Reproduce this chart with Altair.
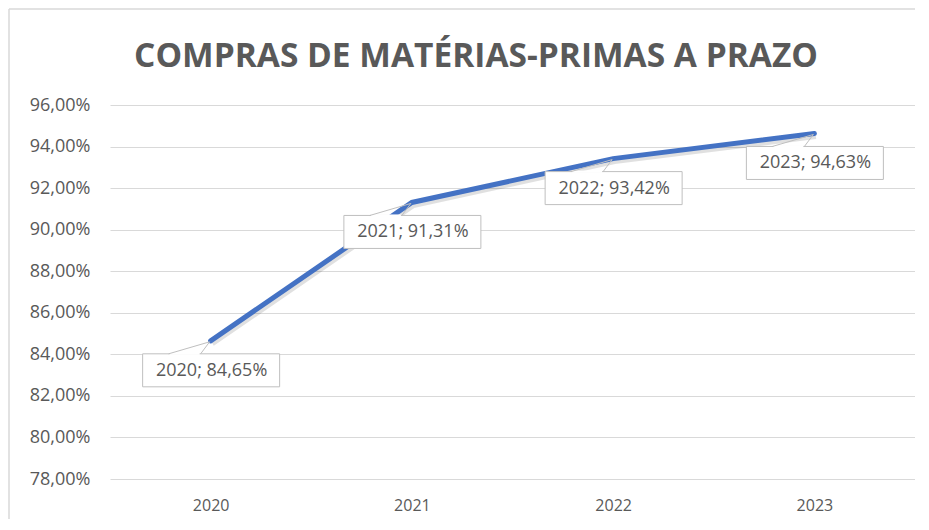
import altair as alt
import pandas as pd

years = ["2020", "2021", "2022", "2023"]
values = [0.8465, 0.9131, 0.9342, 0.9463]
labels = ["2020; 84,65%", "2021; 91,31%", "2022; 93,42%", "2023; 94,63%"]
title_text = "COMPRAS DE MATÉRIAS-PRIMAS A PRAZO"

df = pd.DataFrame({"year": years, "value": values, "label": labels})

GRAY_TXT = "#595959"
GRID = "#d9d9d9"
BLUE = "#4472C4"
FONT = "Open Sans"

x_enc = alt.X("year:O", title=None,
              scale=alt.Scale(type="point", padding=0.5),
              axis=alt.Axis(labelAngle=0, ticks=False, domain=False, grid=False,
                            labelFont=FONT, labelFontSize=16, labelColor=GRAY_TXT,
                            labelPadding=18))
y_enc = alt.Y("value:Q", title=None,
              scale=alt.Scale(domain=[0.78, 0.96], nice=False, zero=False),
              axis=alt.Axis(values=[0.78, 0.80, 0.82, 0.84, 0.86, 0.88, 0.90, 0.92, 0.94, 0.96],
                            labelExpr="replace(format(datum.value, '.2%'), '.', ',')",
                            ticks=False, domain=False, grid=True, gridColor=GRID,
                            gridWidth=1, labelFont=FONT, labelFontSize=18,
                            labelColor=GRAY_TXT, labelPadding=20))

base = alt.Chart(df)

shadow = base.mark_line(color="#000000", opacity=0.12, strokeWidth=6,
                        xOffset=1.5, yOffset=2.5).encode(x=x_enc, y=y_enc)
line = base.mark_line(color=BLUE, strokeWidth=5, strokeCap="round").encode(x=x_enc, y=y_enc)

box = base.mark_rect(fill="white", stroke="#bfbfbf", strokeWidth=1,
                     xOffset=-68, x2Offset=69, yOffset=13, y2Offset=46).encode(
    x="year:O", x2="year:O", y="value:Q", y2="value:Q")
gap = base.mark_rule(color="white", strokeWidth=2,
                     xOffset=-41, x2Offset=-11, yOffset=13, y2Offset=13).encode(
    x="year:O", x2="year:O", y="value:Q", y2="value:Q")
ptr1 = base.mark_rule(color="#bfbfbf", strokeWidth=1,
                      xOffset=-1, yOffset=1, x2Offset=-42, y2Offset=13).encode(
    x="year:O", x2="year:O", y="value:Q", y2="value:Q")
ptr2 = base.mark_rule(color="#bfbfbf", strokeWidth=1,
                      xOffset=-1, yOffset=1, x2Offset=-10, y2Offset=13).encode(
    x="year:O", x2="year:O", y="value:Q", y2="value:Q")
txt = base.mark_text(font=FONT, fontSize=18, color=GRAY_TXT, baseline="middle",
                     align="center", yOffset=30, dx=1).encode(
    x="year:O", y="value:Q", text="label:N")

one = alt.Data(values=[{"t": title_text}])
frame = alt.Chart(one).mark_rule(color=GRID, strokeWidth=1.5).encode(
    x=alt.value(-101), y=alt.value(-96), y2=alt.value(420))
frame_top = alt.Chart(one).mark_rule(color=GRID, strokeWidth=1.5).encode(
    x=alt.value(-101), x2=alt.value(820), y=alt.value(-96))
title = alt.Chart(one).mark_text(font=FONT, fontSize=33.5, fontWeight="bold", color=GRAY_TXT,
                                 align="center", baseline="middle").encode(
    x=alt.value(366), y=alt.value(-48), text="t:N")

chart = alt.layer(frame, frame_top, title, shadow, line, box, gap, ptr1, ptr2, txt).properties(
    width=805, height=374,
    autosize=alt.AutoSizeParams(type="none"),
    padding={"left": 102, "top": 97, "right": 0, "bottom": 40},
).configure(background="white", view=alt.ViewConfig(stroke=None))

chart.save("out.html", embed_options={"renderer": "svg", "actions": False})
